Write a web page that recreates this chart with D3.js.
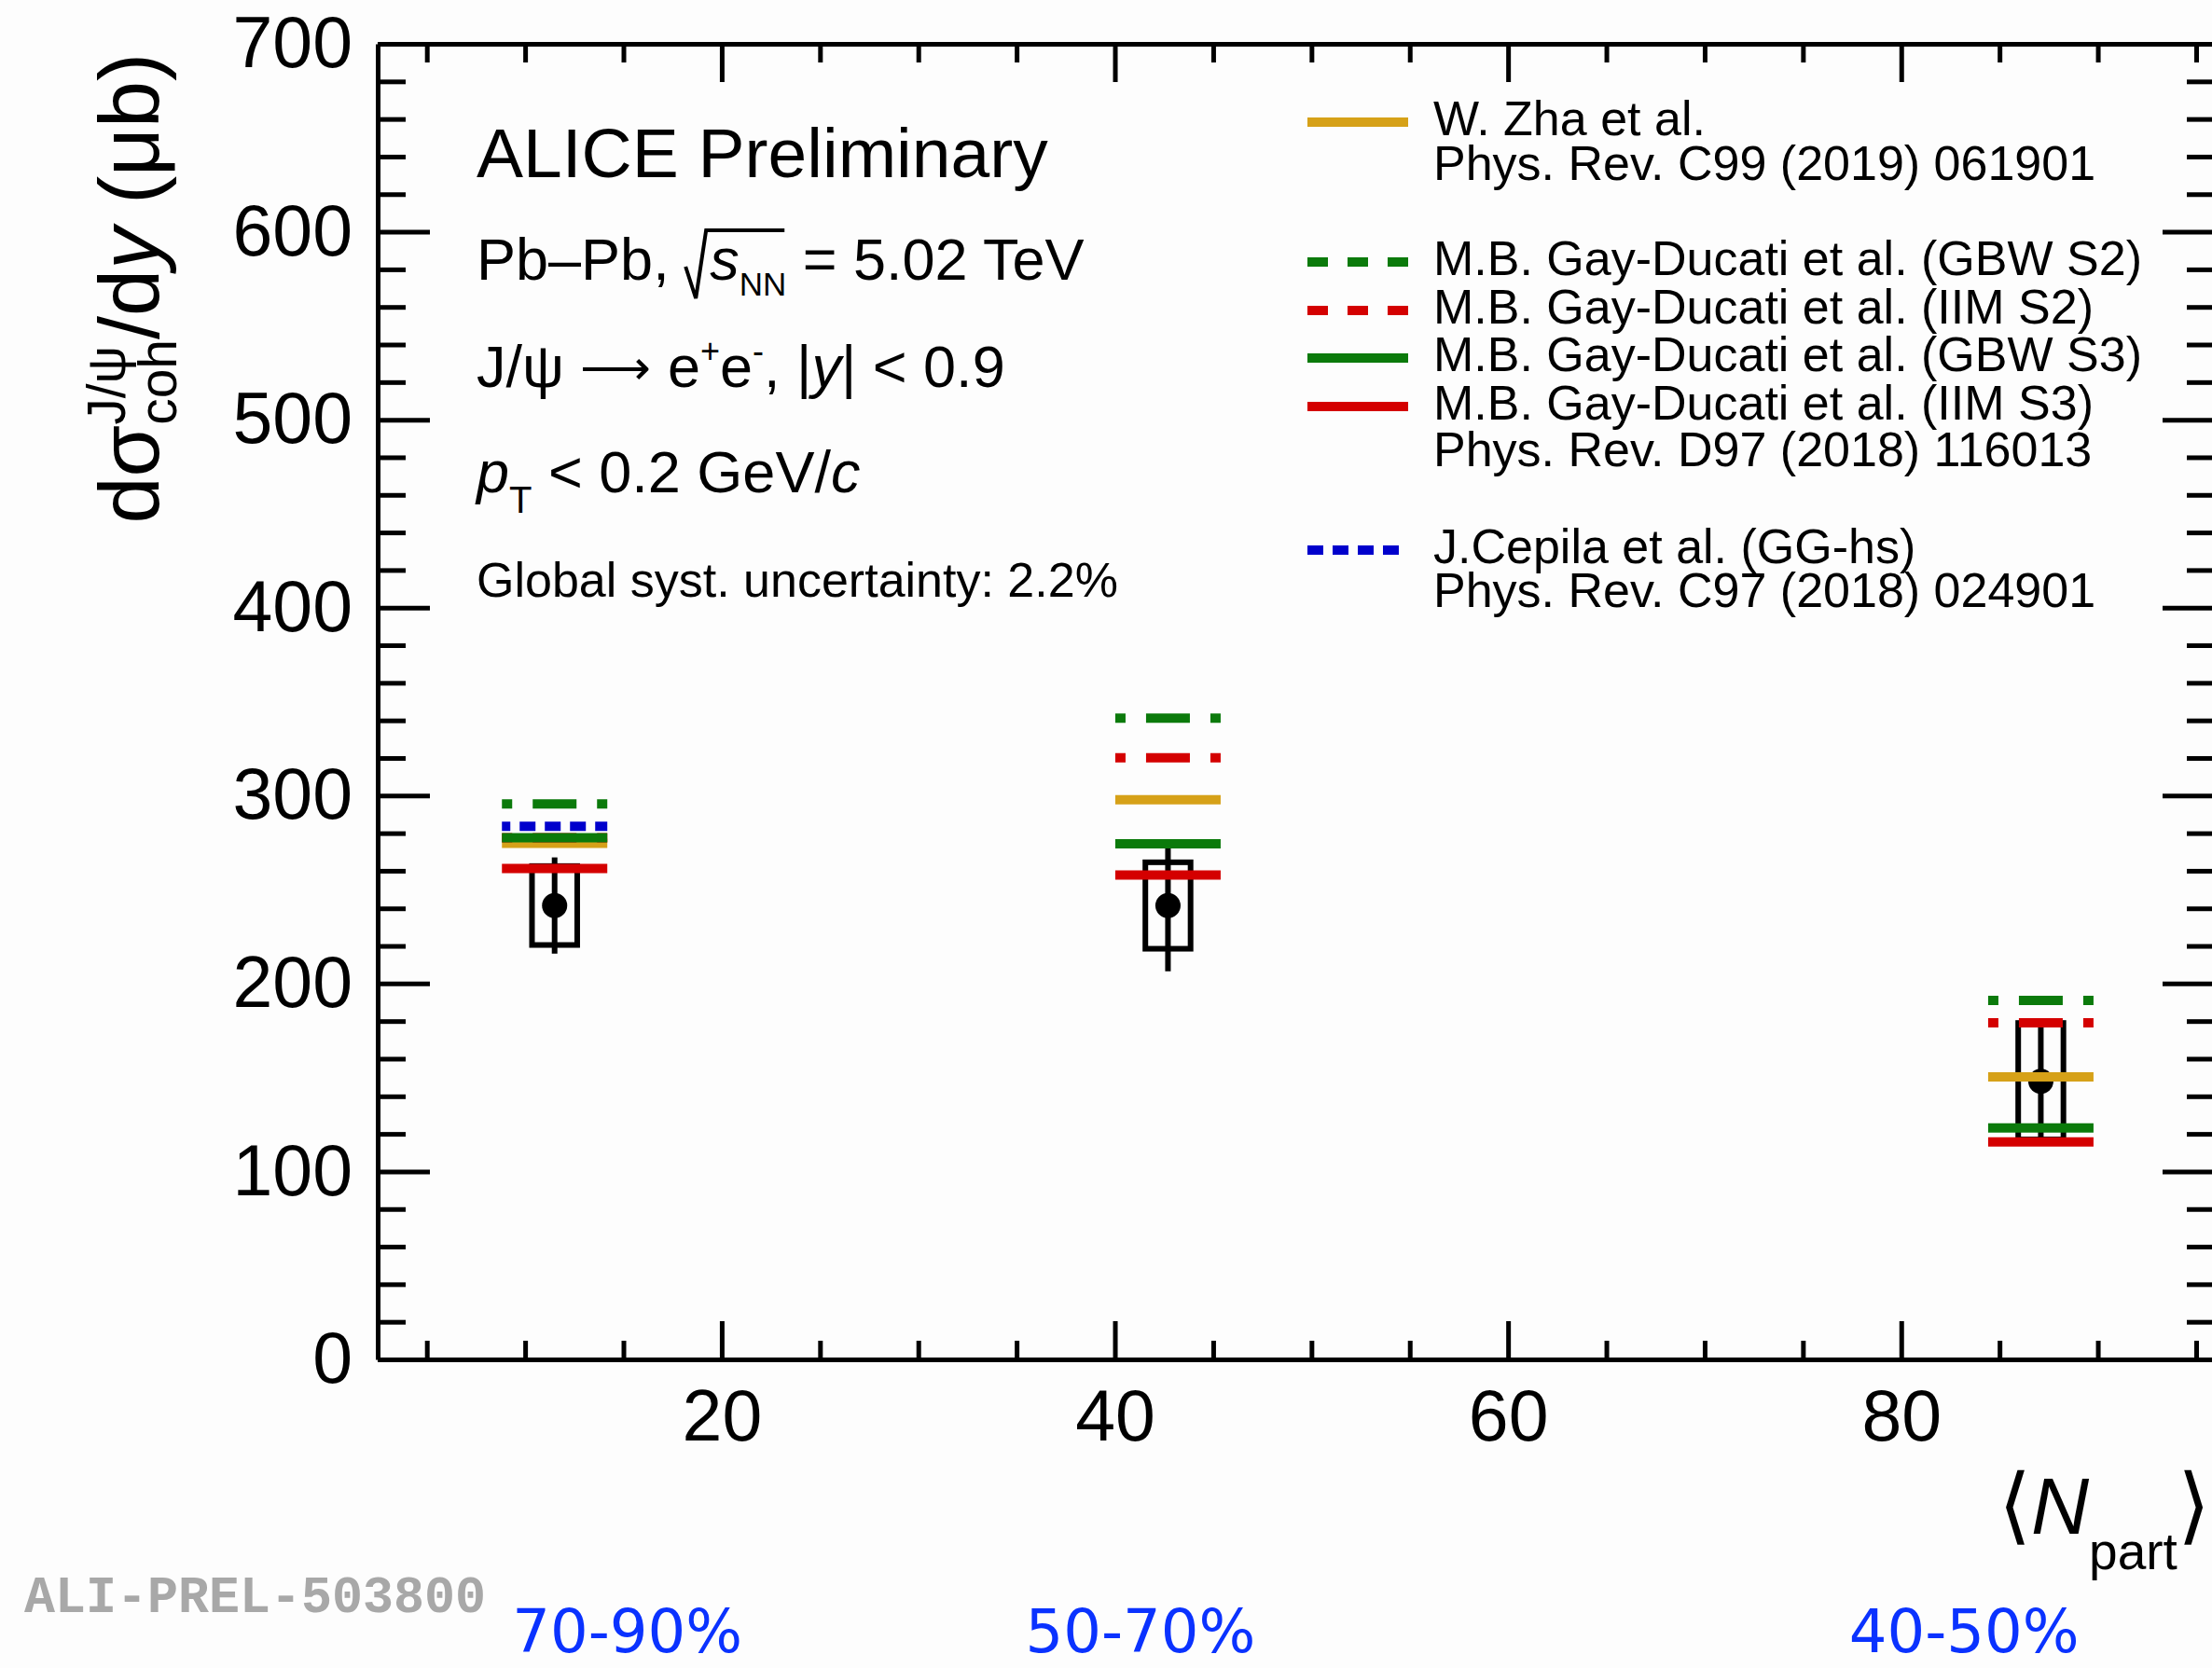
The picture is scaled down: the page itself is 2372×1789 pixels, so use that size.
<!DOCTYPE html>
<html>
<head>
<meta charset="utf-8">
<script src="https://cdn.jsdelivr.net/npm/d3@7"></script>
<style>
  html, body { margin: 0; padding: 0; background: #fdfdfd; }
  svg { display: block; font-family: "Liberation Sans", Arial, Helvetica, sans-serif; }
  svg text { white-space: pre; }
</style>
</head>
<body>
<svg id="chart"></svg>
<script>
const centralities = ["70-90%", "50-70%", "40-50%"];
const labelNpart   = [15.2, 41.3, 83.2];
const nPart        = [11.5, 42.7, 87.1];
const xsec         = [241.5, 241.5, 148];
const statErr      = [25.6, 35, 30];
const systErr      = [21, 23, 31];

const zha    = [274.6, 297.8, 150.3];
const gbwS2  = [295.5, 341.2, 191.0];
const iimS2  = [277.6, 320.1, 179.1];
const gbwS3  = [277.6, 274.3, 123.2];
const iimS3  = [261.2, 257.7, 115.7];
const cepila = [283.6, null, null];

const xTicks = [20, 40, 60, 80];
const xMinor = [5, 10, 15, 25, 30, 35, 45, 50, 55, 65, 70, 75, 85, 90, 95];
const yTicks = [0, 100, 200, 300, 400, 500, 600, 700];
const yMinor = d3.range(0, 701, 20).filter(v => v % 100 !== 0);

const W = 2372, H = 1789;
const BOX_HALF = 1.15, MODEL_HALF = 2.68;

const svg = d3.select("#chart").attr("width", W).attr("height", H);
svg.append("rect").attr("width", W).attr("height", H).attr("fill", "#fdfdfd");

const x = d3.scaleLinear().domain([2.5, 95.95]).range([405, 2375]);
const y = d3.scaleLinear().domain([0, 700]).range([1458, 47]);

const models = [
  { values: zha,    color: "#d6a118", dash: null },
  { values: gbwS2,  color: "#0b7a0b", dash: "47 22", offset: 36 },
  { values: iimS2,  color: "#d40000", dash: "47 22", offset: 36 },
  { values: gbwS3,  color: "#0b7a0b", dash: null },
  { values: iimS3,  color: "#d40000", dash: null },
  { values: cepila, color: "#0000cc", dash: "17 10", offset: 8 },
];

// axes, ROOT style: ticks inside on all four sides
function styleAxis(g) {
  g.selectAll(".domain").attr("stroke", "#000").attr("stroke-width", 5);
  g.selectAll(".tick line").attr("stroke", "#000").attr("stroke-width", 5);
  g.selectAll(".tick text").attr("fill", "#000")
    .style("font-family", "'Liberation Sans', Arial, sans-serif").style("font-size", "77px");
}

const axes = svg.append("g");
axes.append("g").attr("transform", `translate(0,${y(0)})`)
  .call(d3.axisBottom(x).tickValues(xTicks).tickSizeInner(-41).tickSizeOuter(0).tickPadding(32))
  .call(styleAxis);
axes.append("g").attr("transform", `translate(0,${y(0)})`)
  .call(d3.axisBottom(x).tickValues(xMinor).tickSizeInner(-20).tickSizeOuter(0).tickFormat(""))
  .call(styleAxis).call(g => g.select(".domain").remove());
axes.append("g").attr("transform", `translate(0,${y(700)})`)
  .call(d3.axisTop(x).tickValues(xTicks).tickSizeInner(-41).tickSizeOuter(0).tickFormat(""))
  .call(styleAxis);
axes.append("g").attr("transform", `translate(0,${y(700)})`)
  .call(d3.axisTop(x).tickValues(xMinor).tickSizeInner(-20).tickSizeOuter(0).tickFormat(""))
  .call(styleAxis).call(g => g.select(".domain").remove());

axes.append("g").attr("transform", `translate(${x.range()[0]},0)`)
  .call(d3.axisLeft(y).tickValues(yTicks).tickSizeInner(-56).tickSizeOuter(0).tickPadding(27))
  .call(styleAxis);
axes.append("g").attr("transform", `translate(${x.range()[0]},0)`)
  .call(d3.axisLeft(y).tickValues(yMinor).tickSizeInner(-30).tickSizeOuter(0).tickFormat(""))
  .call(styleAxis).call(g => g.select(".domain").remove());
axes.append("g").attr("transform", `translate(${x.range()[1]},0)`)
  .call(d3.axisRight(y).tickValues(yTicks).tickSizeInner(-56).tickSizeOuter(0).tickFormat(""))
  .call(styleAxis);
axes.append("g").attr("transform", `translate(${x.range()[1]},0)`)
  .call(d3.axisRight(y).tickValues(yMinor).tickSizeInner(-30).tickSizeOuter(0).tickFormat(""))
  .call(styleAxis).call(g => g.select(".domain").remove());

// data points: syst box, stat bar, marker
const pts = nPart.map((n, i) => ({ n, v: xsec[i], stat: statErr[i], syst: systErr[i] }));
const data = svg.append("g");
data.selectAll("rect").data(pts).join("rect")
  .attr("x", d => x(d.n - BOX_HALF))
  .attr("width", d => x(d.n + BOX_HALF) - x(d.n - BOX_HALF))
  .attr("y", d => y(d.v + d.syst))
  .attr("height", d => y(d.v - d.syst) - y(d.v + d.syst))
  .attr("fill", "none").attr("stroke", "#000").attr("stroke-width", 6);
data.selectAll("line").data(pts).join("line")
  .attr("x1", d => x(d.n)).attr("x2", d => x(d.n))
  .attr("y1", d => y(d.v + d.stat)).attr("y2", d => y(d.v - d.stat))
  .attr("stroke", "#000").attr("stroke-width", 6);
data.selectAll("circle").data(pts).join("circle")
  .attr("cx", d => x(d.n)).attr("cy", d => y(d.v)).attr("r", 13.5).attr("fill", "#000");

// model predictions
const modelG = svg.append("g");
models.forEach(m => {
  const segs = nPart.map((n, i) => ({ n, v: m.values[i] })).filter(d => d.v != null);
  modelG.append("g").selectAll("line").data(segs).join("line")
    .attr("x1", d => x(d.n - MODEL_HALF)).attr("x2", d => x(d.n + MODEL_HALF))
    .attr("y1", d => y(d.v)).attr("y2", d => y(d.v))
    .attr("stroke", m.color).attr("stroke-width", 10)
    .attr("stroke-dasharray", m.dash)
    .attr("stroke-dashoffset", m.offset || null);
});

// rich text helper: runs of text with size / shift / italic, stacking for sub+sup
function richText(parent, tx, ty, runs, opts = {}) {
  const g = parent.append("g");
  const inner = g.append("g");
  let cx = 0, stackStart = 0;
  const pos = [];
  runs.forEach(r => {
    if (r.gap) { pos.push(cx); cx += r.gap; return; }
    const start = r.stack ? stackStart : cx;
    const t = inner.append("text")
      .attr("x", start).attr("y", r.dy || 0)
      .attr("fill", opts.fill || "#000")
      .style("font-size", r.size + "px")
      .style("font-style", r.italic ? "italic" : null)
      .text(r.t);
    const w = t.node().getComputedTextLength();
    pos.push(start);
    if (r.stack) cx = Math.max(cx, start + w);
    else { stackStart = cx; cx += w; }
  });
  const shift = opts.anchor === "end" ? -cx : 0;
  inner.attr("transform", `translate(${shift},0)`);
  g.attr("transform", `translate(${tx},${ty})` + (opts.rotate ? ` rotate(${opts.rotate})` : ""));
  return { g: inner, pos, width: cx };
}

// y-axis title
richText(svg, 170, 57, [
  { t: "dσ", size: 90 },
  { t: "J/ψ", size: 57, dy: -36 },
  { t: "coh", size: 57, dy: 19, stack: true },
  { t: "/d", size: 90 },
  { t: "y", size: 90, italic: true },
  { t: " (μb)", size: 90 },
], { anchor: "end", rotate: -90 });

// x-axis title
richText(svg, 2143, 1645, [
  { t: "⟨", size: 90 },
  { t: "N", size: 86, italic: true },
  { t: "part", size: 55, dy: 38 },
  { t: "⟩", size: 90 },
]);

// physics annotations
svg.append("text").attr("x", 511).attr("y", 190)
  .style("font-size", "75px").text("ALICE Preliminary");

const line2 = richText(svg, 511, 300, [
  { t: "Pb–Pb, ", size: 63 },
  { gap: 26 },
  { t: "s", size: 63, italic: true },
  { t: "NN", size: 35, dy: 17 },
  { t: " = 5.02 TeV", size: 63 },
]);
const r0 = line2.pos[1], rEnd = line2.pos[4] - 2;
line2.g.append("path")
  .attr("d", `M${r0},-14 L${r0 + 11},20 L${r0 + 22},-53 H${rEnd}`)
  .attr("fill", "none").attr("stroke", "#000").attr("stroke-width", 4);

richText(svg, 511, 415, [
  { t: "J/ψ ", size: 63 },
  { t: "⟶", size: 53, dy: -3 },
  { t: " e", size: 63 },
  { t: "+", size: 36, dy: -26 },
  { t: "e", size: 63 },
  { t: "-", size: 36, dy: -26 },
  { t: ", |", size: 63 },
  { t: "y", size: 63, italic: true },
  { t: "| < 0.9", size: 63 },
]);

richText(svg, 511, 528, [
  { t: "p", size: 63, italic: true },
  { t: "T", size: 40, dy: 22 },
  { t: " < 0.2 GeV/", size: 63 },
  { t: "c", size: 63, italic: true },
]);

svg.append("text").attr("x", 511).attr("y", 640)
  .style("font-size", "52px").text("Global syst. uncertainty: 2.2%");

// legend
const legendRows = [
  { text: "W. Zha et al.", y: 126, color: "#d6a118", dash: null },
  { text: "Phys. Rev. C99 (2019) 061901", y: 174 },
  { text: "M.B. Gay-Ducati et al. (GBW S2)", y: 276, color: "#0b7a0b", dash: "22 21" },
  { text: "M.B. Gay-Ducati et al. (IIM S2)", y: 328, color: "#d40000", dash: "22 21" },
  { text: "M.B. Gay-Ducati et al. (GBW S3)", y: 379, color: "#0b7a0b", dash: null },
  { text: "M.B. Gay-Ducati et al. (IIM S3)", y: 431, color: "#d40000", dash: null },
  { text: "Phys. Rev. D97 (2018) 116013", y: 481 },
  { text: "J.Cepila et al. (GG-hs)", y: 585, color: "#0000cc", dash: "17 10", w: 98 },
  { text: "Phys. Rev. C97 (2018) 024901", y: 632 },
];
const legend = svg.append("g");
legendRows.forEach(r => {
  legend.append("text").attr("x", 1537).attr("y", r.y + 19)
    .style("font-size", "52px").text(r.text);
  if (r.color) {
    legend.append("line")
      .attr("x1", 1402).attr("x2", 1402 + (r.w || 108))
      .attr("y1", r.y + 5).attr("y2", r.y + 5)
      .attr("stroke", r.color).attr("stroke-width", 10)
      .attr("stroke-dasharray", r.dash);
  }
});

// footer: preliminary id and centrality classes
svg.append("text").attr("x", 26).attr("y", 1729)
  .style("font-family", "'Liberation Mono', monospace").style("font-weight", "bold")
  .style("font-size", "55px").attr("fill", "#a8a8a8").text("ALI-PREL-503800");

svg.append("g").selectAll("text").data(centralities).join("text")
  .attr("x", (d, i) => x(labelNpart[i])).attr("y", 1772)
  .attr("text-anchor", "middle")
  .style("font-family", "'DejaVu Sans', sans-serif").style("font-size", "64px")
  .attr("fill", "#0a32ff").text(d => d);
</script>
</body>
</html>
